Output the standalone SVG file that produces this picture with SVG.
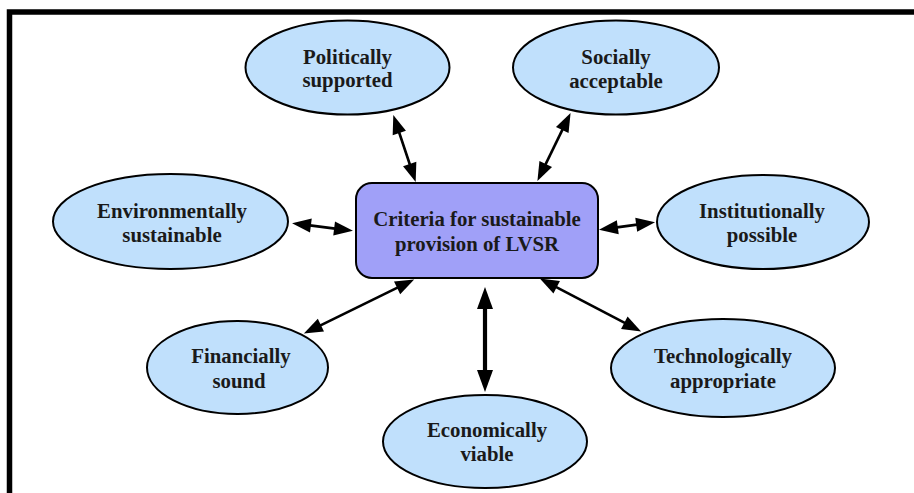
<svg xmlns="http://www.w3.org/2000/svg" width="914" height="493" viewBox="0 0 914 493">
<style>
.bg{fill:#ffffff}
.frame{fill:none;stroke:#000;stroke-width:5.5}
.node ellipse{fill:#c0e0fc;stroke:#000;stroke-width:2}
.center rect{fill:#a0a0f8;stroke:#000;stroke-width:2}
text{font-family:'Liberation Serif','DejaVu Serif',serif;font-weight:700;font-size:20.8px;fill:#1a1a1a;text-anchor:middle}
.conn line{stroke:#000;stroke-width:2.6}
.conn line.thick{stroke-width:4.2}
</style>
<defs>
<marker id="ah" markerUnits="userSpaceOnUse" markerWidth="20" markerHeight="16" refX="1" refY="7" orient="auto-start-reverse" overflow="visible">
<path d="M0,0 L19,7 L0,14 z" fill="#000"/>
</marker>
<marker id="ahb" markerUnits="userSpaceOnUse" markerWidth="24" markerHeight="18" refX="1" refY="8" orient="auto-start-reverse" overflow="visible">
<path d="M0,0 L22,8 L0,16 z" fill="#000"/>
</marker>
</defs>
<rect class="bg" x="0" y="0" width="914" height="493"/>
<path class="frame" d="M9.5,493 V12 H914"/>

<g id="connectors" class="conn">
<line x1="399" y1="132" x2="410" y2="165" marker-start="url(#ah)" marker-end="url(#ah)"/>
<line x1="562.7" y1="129.1" x2="545.3" y2="164.9" marker-start="url(#ah)" marker-end="url(#ah)"/>
<line x1="309.9" y1="225.4" x2="335.1" y2="228.6" marker-start="url(#ah)" marker-end="url(#ah)"/>
<line x1="637.2" y1="224.6" x2="616.8" y2="227.4" marker-start="url(#ah)" marker-end="url(#ah)"/>
<line x1="320" y1="325.6" x2="398" y2="287.4" marker-start="url(#ah)" marker-end="url(#ah)"/>
<line class="thick" x1="485" y1="371" x2="485" y2="308" marker-start="url(#ahb)" marker-end="url(#ahb)"/>
<line x1="625.2" y1="323.2" x2="555.8" y2="286.8" marker-start="url(#ah)" marker-end="url(#ah)"/>
</g>

<g id="criteria" class="center">
<rect x="356" y="183" width="242" height="95" rx="16" ry="16"/>
<text x="477" y="226">Criteria for sustainable</text>
<text x="477" y="251">provision of LVSR</text>
</g>

<g id="politically" class="node">
<ellipse cx="347.5" cy="67.5" rx="102" ry="47"/>
<text x="347.5" y="64">Politically</text>
<text x="347.5" y="87">supported</text>
</g>

<g id="socially" class="node">
<ellipse cx="616" cy="67.5" rx="103" ry="47"/>
<text x="616" y="64">Socially</text>
<text x="616" y="88">acceptable</text>
</g>

<g id="environmentally" class="node">
<ellipse cx="170.5" cy="221.5" rx="117.5" ry="47.5"/>
<text x="172" y="218">Environmentally</text>
<text x="172" y="242">sustainable</text>
</g>

<g id="institutionally" class="node">
<ellipse cx="763" cy="222" rx="106" ry="47"/>
<text x="762" y="218">Institutionally</text>
<text x="762" y="242">possible</text>
</g>

<g id="financially" class="node">
<ellipse cx="237.5" cy="367.5" rx="90.5" ry="46.5"/>
<text x="241" y="363">Financially</text>
<text x="239" y="388">sound</text>
</g>

<g id="economically" class="node">
<ellipse cx="485" cy="441.5" rx="102" ry="46.5"/>
<text x="487" y="437">Economically</text>
<text x="487" y="461">viable</text>
</g>

<g id="technologically" class="node">
<ellipse cx="723" cy="368" rx="112" ry="49"/>
<text x="723" y="363">Technologically</text>
<text x="723" y="388">appropriate</text>
</g>
</svg>
